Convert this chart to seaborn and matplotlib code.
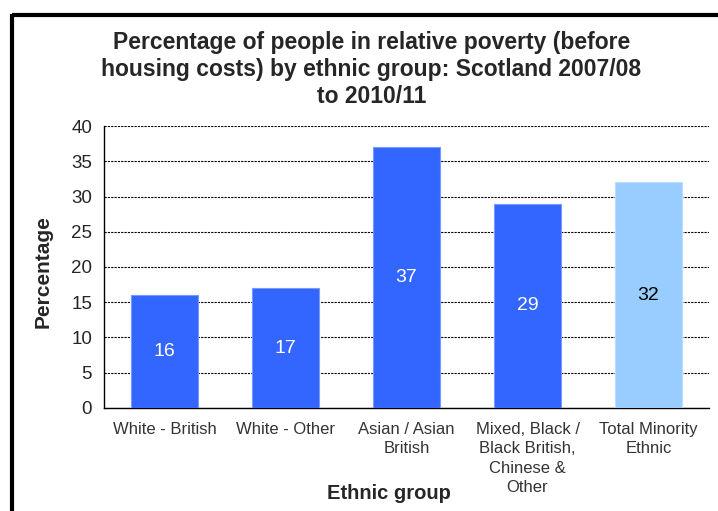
import matplotlib
matplotlib.use("Agg")
import matplotlib.pyplot as plt
import seaborn as sns
import pandas as pd
from matplotlib.lines import Line2D

# Data
groups = ["White - British", "White - Other", "Asian / Asian\nBritish",
          "Mixed, Black /\nBlack British,\nChinese &\nOther", "Total Minority\nEthnic"]
poverty_pct = [16, 17, 37, 29, 32]
bar_colours = ["#3366FF", "#3366FF", "#3366FF", "#3366FF", "#99CCFF"]
label_colours = ["white", "white", "white", "white", "black"]

df = pd.DataFrame({"Ethnic group": groups, "Percentage": poverty_pct})

sns.set_style("white")
plt.rcParams["font.family"] = ["Liberation Sans", "DejaVu Sans"]

fig = plt.figure(figsize=(7.18, 5.11), dpi=100)
ax = fig.add_axes([0.1448, 0.2016, 0.8427, 0.5518])

sns.barplot(data=df, x="Ethnic group", y="Percentage", hue="Ethnic group",
            palette=bar_colours, legend=False, width=0.55, saturation=1,
            edgecolor="#7799FF", linewidth=0.8, ax=ax, zorder=3)
ax.patches[-1].set_edgecolor("#BBDDFF")

# value labels in the middle of each bar
for patch, val, col in zip(ax.patches, poverty_pct, label_colours):
    ax.text(patch.get_x() + patch.get_width() / 2, val / 2, str(val),
            ha="center", va="center", color=col, fontsize=14, zorder=4)

ax.set_ylim(0, 40)
ax.set_xlim(-0.5, 4.5)
ax.set_yticks(range(0, 41, 5))
ax.yaxis.grid(True, linestyle=(0, (2, 1)), color="black", linewidth=0.8, zorder=0)
ax.set_axisbelow(True)

# x ticks sit between the categories
ax.set_xticks([-0.5, 0.5, 1.5, 2.5, 3.5, 4.5], minor=True)
ax.tick_params(axis="x", which="minor", length=5, width=1, color="black", direction="out")
ax.tick_params(axis="x", which="major", length=0, pad=10, labelsize=12, labelcolor="#333333")
for lbl in ax.get_xticklabels():
    lbl.set_linespacing(1.37)
ax.tick_params(axis="y", length=5, width=0.8, color="black", direction="out",
               labelsize=13.5, pad=3.5)

for side in ["top", "right"]:
    ax.spines[side].set_visible(False)
ax.spines["left"].set_color("black")
ax.spines["bottom"].set_color("black")
ax.spines["left"].set_linewidth(1)
ax.spines["bottom"].set_linewidth(1)

ax.set_ylabel("Percentage", fontsize=15, fontweight="bold", va="center")
ax.yaxis.set_label_coords(-0.101, 0.485)
ax.set_xlabel("Ethnic group", fontsize=14.5, fontweight="bold", va="top")
ax.xaxis.set_label_coords(0.471, -0.268)

fig.text(0.517, 1 - 31 / 511,
         "Percentage of people in relative poverty (before\n"
         "housing costs) by ethnic group: Scotland 2007/08\nto 2010/11",
         ha="center", va="top", fontsize=16.5, fontweight="bold", linespacing=1.22)

# outer frame (top and left edges)
fig.add_artist(Line2D([0.0174, 1.0], [0.9697, 0.9697], color="black", linewidth=3,
                      transform=fig.transFigure, solid_capstyle="butt"))
fig.add_artist(Line2D([0.0174, 0.0174], [0.0, 0.9697 + 0.003], color="black", linewidth=3,
                      transform=fig.transFigure, solid_capstyle="butt"))

fig.savefig("out.png", dpi=100)
